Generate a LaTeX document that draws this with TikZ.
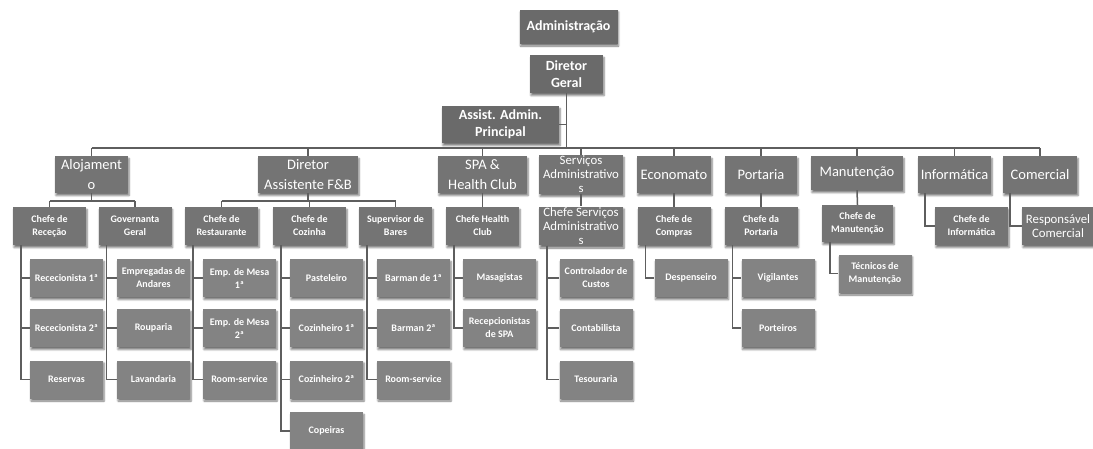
\documentclass[tikz,border=0pt]{standalone}
\usepackage{fontspec}
\setmainfont{Carlito}
\usepackage{tikz}
\usetikzlibrary{shadows.blur}
\definecolor{topgray}{HTML}{6A6A6A}
\definecolor{boxgray}{HTML}{747474}
\definecolor{leafgray}{HTML}{838383}
\definecolor{linegray}{HTML}{5E5E5E}
\tikzset{
  orgbox/.style={fill=boxgray, text=white, align=center, inner sep=1pt,
    blur shadow={shadow xshift=1pt, shadow yshift=-2.5pt, shadow opacity=55}},
  topbox/.style={orgbox, fill=topgray, font=\bfseries\fontsize{14}{17}\selectfont, minimum height=37pt},
  deptbox/.style={orgbox, font=\fontsize{14.5}{20}\selectfont, minimum width=73pt, minimum height=37pt},
  chefbox/.style={orgbox, font=\bfseries\fontsize{10}{13}\selectfont, minimum width=73pt, minimum height=38pt},
  leafbox/.style={chefbox, fill=leafgray},
  longname/.style={font=\fontsize{12.8}{14}\selectfont},
  link/.style={draw=linegray, line width=1.5pt}
}

\begin{document}
\begin{tikzpicture}[x=1pt, y=-1pt]
  \useasboundingbox (0,0) rectangle (1093,448);
  \coordinate (bus) at (0,148);
  \coordinate (subbus) at (0,201);

  \node[topbox, minimum width=98pt, minimum height=34pt] (adm) at (568.5,26.5) {Administração};
  \node[topbox, minimum width=73pt, minimum height=38pt] (dg) at (566.5,74) {Diretor\\Geral};
  \node[topbox, minimum width=117pt] (aap) at (500.5,124.5) {Assist. Admin.\\Principal};

  \node[deptbox] (aloj) at (91.5,174.5) {Alojament\\o};
  \node[deptbox, minimum width=100pt] (fnb) at (308,174.5) {Diretor\\Assistente F\&B};
  \node[deptbox, minimum width=89pt] (spa) at (482.5,174.5) {SPA \&\\Health Club};
  \node[deptbox, longname, minimum width=84pt] (serv) at (581,174.5) {Serviços\\Administrativo\\s};
  \node[deptbox, minimum width=74pt] (econ) at (674,174.5) {Economato};
  \node[deptbox, minimum width=72pt] (port) at (761,174.5) {Portaria};
  \node[deptbox, minimum width=92pt, minimum height=34pt] (manut) at (857,173) {Manutenção};
  \node[deptbox] (info) at (954.5,174.5) {Informática};
  \node[deptbox, minimum width=74pt] (com) at (1040,174.5) {Comercial};

  \node[chefbox] (recep) at (49.5,226) {Chefe de\\Receção};
  \node[chefbox] (gov) at (135,226) {Governanta\\Geral};
  \node[chefbox] (rest) at (221.5,226) {Chefe de\\Restaurante};
  \node[chefbox] (coz) at (309.5,226) {Chefe de\\Cozinha};
  \node[chefbox] (bares) at (395.5,226) {Supervisor de\\Bares};
  \node[chefbox] (health) at (482.5,226) {Chefe Health\\Club};
  \node[chefbox, longname, minimum width=84pt] (cserv) at (581,226) {Chefe Serviços\\Administrativo\\s};
  \node[chefbox] (compras) at (674,226) {Chefe de\\Compras};
  \node[chefbox] (cport) at (761,226) {Chefe da\\Portaria};
  \node[chefbox, minimum width=71pt, minimum height=37pt] (cmanut) at (857.5,223.5) {Chefe de\\Manutenção};
  \node[chefbox] (cinfo) at (971.5,226) {Chefe de\\Informática};
  \node[chefbox, longname, minimum width=72pt] (rcom) at (1058,226) {Responsável\\Comercial};

  \node[leafbox] (rcpa) at (66.5,278) {Rececionista 1ª};
  \node[leafbox] (rcpb) at (66.5,328) {Rececionista 2ª};
  \node[leafbox] (resv) at (66.5,379.5) {Reservas};
  \node[leafbox] (empa) at (153.5,278) {Empregadas de\\Andares};
  \node[leafbox] (roup) at (153.5,328) {Rouparia};
  \node[leafbox] (lava) at (153.5,379.5) {Lavandaria};
  \node[leafbox] (mesa) at (239.5,278) {Emp. de Mesa\\1ª};
  \node[leafbox] (mesb) at (239.5,328) {Emp. de Mesa\\2ª};
  \node[leafbox] (roma) at (239.5,379.5) {Room-service};
  \node[leafbox] (past) at (326.5,278) {Pasteleiro};
  \node[leafbox] (coza) at (326.5,328) {Cozinheiro 1ª};
  \node[leafbox] (cozb) at (326.5,379.5) {Cozinheiro 2ª};
  \node[leafbox] (cope) at (326.5,431) {Copeiras};
  \node[leafbox] (bara) at (413.5,278) {Barman de 1ª};
  \node[leafbox] (barb) at (413.5,328) {Barman 2ª};
  \node[leafbox] (romb) at (413.5,379.5) {Room-service};
  \node[leafbox] (mass) at (499.5,278) {Masagistas};
  \node[leafbox] (rspa) at (499.5,328) {Recepcionistas\\de SPA};
  \node[leafbox] (ctrl) at (596,278) {Controlador de\\Custos};
  \node[leafbox] (cont) at (596,328) {Contabilista};
  \node[leafbox] (teso) at (596,379.5) {Tesouraria};
  \node[leafbox] (desp) at (691,278) {Despenseiro};
  \node[leafbox] (vigi) at (778,278) {Vigilantes};
  \node[leafbox] (port2) at (778,328) {Porteiros};
  \node[leafbox] (tecm) at (875,273.5) {Técnicos de\\Manutenção};

  % topo
  \draw[link] (dg.south) -- (dg.south |- bus);
  \draw[link] (aap.east) -- (aap.east -| dg.south);
  \draw[link] (aloj.north |- bus) -- (com.north |- bus);
  \foreach \d in {aloj,fnb,spa,serv,econ,port,manut,info,com}
    \draw[link] (\d.north) -- (\d.north |- bus);

  % departamentos -> chefes
  \draw[link] (aloj.south) -- (aloj.south |- subbus);
  \draw[link] (recep.north |- subbus) -- (gov.north |- subbus);
  \draw[link] (fnb.south) -- (fnb.south |- subbus);
  \draw[link] (rest.north |- subbus) -- (bares.north |- subbus);
  \foreach \c in {recep,gov,rest,coz,bares}
    \draw[link] (\c.north) -- (\c.north |- subbus);
  \foreach \d/\c in {spa/health,serv/cserv,econ/compras,port/cport,manut/cmanut}
    \draw[link] (\d.south) -- (\c.north);
  \foreach \d/\c in {info/cinfo,com/rcom}
    \draw[link] ([xshift=7pt]\d.south west) |- (\c.west);

  % chefes -> equipas
  \foreach \p/\c in {recep/rcpa,recep/rcpb,recep/resv,gov/empa,gov/roup,gov/lava,
      rest/mesa,rest/mesb,rest/roma,coz/past,coz/coza,coz/cozb,coz/cope,
      bares/bara,bares/barb,bares/romb,health/mass,health/rspa,
      cserv/ctrl,cserv/cont,cserv/teso,compras/desp,cport/vigi,cport/port2,cmanut/tecm}
    \draw[link] ([xshift=8pt]\p.south west) |- (\c.west);
\end{tikzpicture}
\end{document}
